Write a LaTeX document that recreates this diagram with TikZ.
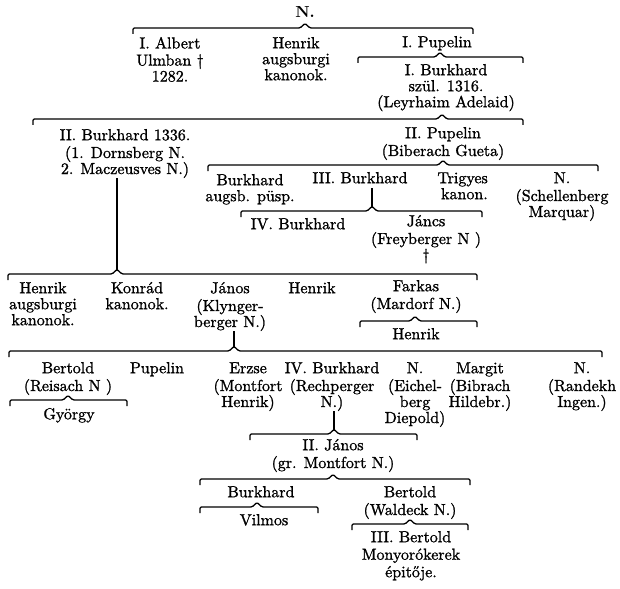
\documentclass[tikz,border=0pt]{standalone}
\font\scanfont="[lmroman10-regular]:mapping=tex-text;embolden=1.2" at 16pt
\font\scanbold="[lmroman10-bold]:mapping=tex-text" at 16pt
\newcommand\sst{\rule[-4.8pt]{0pt}{16pt}}
\newcommand\scanF{\scanfont\baselineskip=16pt\relax}
\newcommand\scanB{\scanbold\baselineskip=16pt\relax}
\newcommand\scanW{\scanfont\baselineskip=17.5pt\relax}
\begin{document}
\begin{tikzpicture}[x=1pt,y=-1pt,
  txt/.style={anchor=north, align=center, inner sep=0pt, font=\scanF},
  brace/.style={line width=1.3pt, rounded corners=1.2pt},
  vline/.style={line width=1.3pt}]
\fill[white] (0,0) rectangle (620,588);
\useasboundingbox (0,0) rectangle (620,588);
\newcommand\gbr[5]{%
  \draw[brace] (#1,#3+6) -- (#1,#3) -- (#4-5,#3) -- (#4,#3-4.5) -- (#4+5,#3) -- (#2,#3) -- (#2,#3+6);
  \coordinate (#5) at (#4,#3-4.5);}
% generation 0
\node[txt,font=\scanB] (n0) at (305,5.8) {\sst N.};
\gbr{133}{473}{28}{305}{pA}
\node[txt] (alb) at (170,36.8) {\sst I. Albert\\Ulmban \char"2020\\1282.};
\node[txt] (hen1) at (296,36.8) {\sst Henrik\\augsburgi\\kanonok.};
\node[txt] (pup1) at (437,35.8) {\sst I. Pupelin};
\gbr{358}{523}{57}{440}{pB}
\node[txt] (burk1) at (446,63.8) {\sst I. Burkhard\\szül. 1316.\\(Leyrhaim Adelaid)};
\gbr{33}{523}{119}{442}{pC}
\node[txt] (burk2) at (125,128.8) {\sst II. Burkhard 1336.\\(1. Dornsberg N.\\2. Maczeusves N.)};
\node[txt] (pup2) at (443,126.8) {\sst II. Pupelin\\(Biberach Gueta)};
\gbr{208}{598}{165}{443}{pD}
\node[txt] (burkA) at (250,173.8) {\sst Burkhard\\augsb. püsp.};
\node[txt] (burk3) at (360,171.8) {\sst III. Burkhard};
\node[txt,anchor=north east,align=right] (frig) at (488,171.8) {\sst Trigyes\\kanon.};
\node[txt] (nS) at (562,171.8) {\sst N.\\(Schellenberg\\Marquar)};
\gbr{241}{482}{211}{372}{pE}
\draw[vline] (burk3.south -| pE) -- (pE);
\node[txt] (burk4) at (298,217.8) {\sst IV. Burkhard};
\node[txt] (jan1) at (426,214.8) {\sst Jáncs\\(Freyberger N )\\\char"2020};
\gbr{8}{477}{274}{117}{pF}
\draw[vline] (burk2.south -| pF) -- (pF);
\node[txt] (hen2) at (43,281.8) {\sst Henrik\\augsburgi\\kanonok.};
\node[txt] (kon) at (137,281.8) {\sst Konrád\\kanonok.};
\node[txt] (jan2) at (230,281.8) {\sst János\\(Klynger-\\berger N.)};
\node[txt] (hen3) at (312,281.8) {\sst Henrik};
\node[txt] (fark) at (416,279.8) {\sst Farkas\\(Mardorf N.)};
\gbr{360}{477}{321}{415}{pG}
\node[txt] (hen4) at (416,327.8) {\sst Henrik};
\gbr{9}{602}{351}{234}{pH}
\draw[vline] (jan2.south -| pH) -- (pH);
\node[txt] (bert1) at (68,361.8) {\sst Bertold\\(Reisach N )};
\node[txt] (pup3) at (157,361.8) {\sst Pupelin};
\node[txt] (erz) at (248,361.8) {\sst Erzse\\(Montfort\\Henrik)};
\node[txt] (burk5) at (332,361.8) {\sst IV. Burkhard\\(Rechperger\\N.)};
\node[txt] (nE) at (415,361.8) {\sst N.\\(Eichel-\\berg\\Diepold)};
\node[txt] (marg) at (480,361.8) {\sst Margit\\(Bibrach\\Hildebr.)};
\node[txt] (nR) at (582,361.8) {\sst N.\\(Randekh\\Ingen.)};
\gbr{10}{127}{400}{68}{pBe}
\node[txt] (gyo) at (69,407.8) {\sst György};
\gbr{250}{417}{434}{334}{pI}
\draw[vline] (burk5.south -| pI) -- (pI);
\node[txt] (jan3) at (333,438.8) {\sst II. János\\(gr. Montfort N.)};
\gbr{200}{470}{479}{333}{pJ}
\node[txt] (burk6) at (261,485.8) {\sst Burkhard};
\node[txt] (bert2) at (410,485.8) {\sst Bertold\\(Waldeck N.)};
\gbr{200}{318}{507}{257}{pK}
\node[txt] (vil) at (264,513.8) {\sst Vilmos};
\gbr{352}{468}{524}{410}{pL}
\node[txt,font=\scanW] (bert3) at (411,530.8) {\sst III. Bertold\\Monyorókerek\\épitője.};
\end{tikzpicture}
\end{document}
